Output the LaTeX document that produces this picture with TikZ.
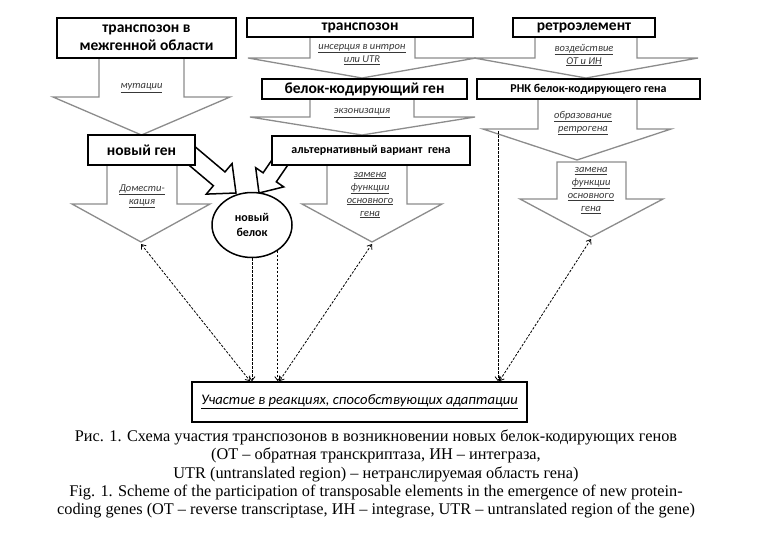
\documentclass[tikz,border=0pt]{standalone}
\usepackage{fontspec}
\setmainfont{Liberation Serif}
\newfontfamily\cfont{Carlito}
\usetikzlibrary{arrows.meta,shapes.geometric,calc}

\tikzset{
  box/.style={draw, line width=1.5pt, fill=white, inner sep=0pt, align=center,
    font=\cfont\bfseries\fontsize{15.5}{18}\selectfont},
  smallbox/.style={box, font=\cfont\bfseries\fontsize{12}{15}\selectfont},
  grayarr/.style={draw=black!45, line width=1.3pt, fill=white, line join=miter},
  blk/.style={draw, line width=1.5pt, fill=white, line join=miter},
  lbl/.style={font=\cfont\itshape\fontsize{10.5}{13}\selectfont, align=center, inner sep=0pt, text=black!78},
  dasharr/.style={dash pattern=on 2.5pt off 1.5pt, line width=0.8pt},
  barb/.tip={Straight Barb[length=4pt,width=6pt]}
}

\newcommand\blkarrow[5]{%
  \coordinate (bA) at #1; \coordinate (bT) at #2;
  \coordinate (bB) at ($(bT)!#5!(bA)$);
  \draw[blk] ($(bA)!#3!90:(bT)$) -- ($(bB)!#3!90:(bT)$) -- ($(bB)!#4!90:(bT)$) -- (bT)
    -- ($(bB)!#4!-90:(bT)$) -- ($(bB)!#3!-90:(bT)$) -- ($(bA)!#3!-90:(bT)$) -- cycle;
}

\begin{document}
\begin{tikzpicture}[x=1pt,y=-1pt]
\useasboundingbox[fill=white] (0,0) rectangle (760,533);

% gray block arrows
\draw[grayarr] (99,58) -- (99,97) -- (53,97) -- (141.5,135) -- (230,97) -- (184,97) -- (184,58);
\draw[grayarr] (310,37) -- (310,58) -- (248,58) -- (362,78) -- (476,58) -- (415,58) -- (415,37);
\draw[grayarr] (310,99) -- (310,117) -- (250,117) -- (362,135) -- (475,117) -- (414,117) -- (414,99);
\draw[grayarr] (535,37) -- (535,58) -- (474,58) -- (586,78) -- (698,58) -- (637,58) -- (637,37);
\draw[grayarr] (538,99) -- (538,129) -- (483,129) -- (577,160) -- (671,129) -- (637,129) -- (637,99);
\draw[grayarr] (557,162) -- (557,199) -- (520,199) -- (591,237) -- (663,199) -- (626,199) -- (626,162) -- cycle;
\draw[grayarr] (107,165) -- (107,204) -- (72,204) -- (141,242) -- (210,204) -- (177,204) -- (177,165);
\draw[grayarr] (327,165) -- (327,204) -- (302,204) -- (372,242) -- (442,204) -- (407,204) -- (407,165);

% black block arrows to the new protein
\blkarrow{(185,150)}{(236,193)}{9pt}{20pt}{22pt}
\blkarrow{(287,152)}{(259,193)}{8pt}{17pt}{19pt}

% boxes
\node[box, minimum width=179pt, minimum height=40pt] (b1) at (146.5,38) {транспозон в\\межгенной области};
\node[box, minimum width=226pt, minimum height=19pt] (b2) at (360,27.5) {транспозон};
\node[box, minimum width=142pt, minimum height=19pt] (b3) at (584,27.5) {ретроэлемент};
\node[box, minimum width=205pt, minimum height=20pt] (b4) at (364.5,89) {белок-кодирующий ген};
\node[smallbox, minimum width=223pt, minimum height=20pt] (b5) at (588.5,89) {РНК белок-кодирующего гена};
\node[box, minimum width=107pt, minimum height=30pt] (b6) at (141.5,150) {новый ген};
\node[smallbox, minimum width=198pt, minimum height=29pt] (b7) at (371,150.5) {альтернативный вариант~ гена};
\node[draw, ellipse, line width=1.5pt, fill=white, minimum width=80pt, minimum height=65pt, inner sep=0pt,
  align=center, font=\cfont\bfseries\fontsize{12}{15}\selectfont] (bel) at (252,225) {новый\\белок};
\node[draw, line width=1.5pt, minimum width=335pt, minimum height=40pt, inner sep=0pt,
  font=\cfont\itshape\fontsize{14.6}{17}\selectfont] (b8) at (359.5,402)
  {\underline{Участие в реакциях, способствующих адаптации}};

% labels
\node[lbl] (l1) at (141.5,88) {\underline{мутации}};
\node[lbl] (l2) at (362,54.5) {\underline{инсерция в интрон}\\\underline{или UTR}};
\node[lbl] (l3) at (362,113) {\underline{экзонизация}};
\node[lbl] (l4) at (584,55) {\underline{воздействие}\\\underline{ОТ и ИН}};
\node[lbl] (l5) at (583,123) {\underline{образование}\\\underline{ретрогена}};
\node[lbl] (l6) at (142,196) {\underline{Домести-}\\\underline{кация}};
\node[lbl] (l7) at (370,195) {\underline{замена}\\\underline{функции}\\\underline{основного}\\\underline{гена}};
\node[lbl] (l8) at (591,190.5) {\underline{замена}\\\underline{функции}\\\underline{основного}\\\underline{гена}};

% arrow tips of gray arrows as named coordinates
\coordinate (t7) at (141,244);
\coordinate (t8) at (372,244);
\coordinate (t6) at (591,239);
\coordinate (t5) at (498,131);

% dashed connectors
\draw[dasharr, barb-barb] (t7) -- ($(b8.north west)+(59,0)$);
\draw[dasharr, -barb] (bel.south) -- (bel.south |- b8.north);
\draw[dasharr, -barb] (bel.-45) -- (bel.-45 |- b8.north);
\draw[dasharr, barb-barb] (t8) -- ($(b8.north west)+(88,0)$);
\draw[dasharr, -barb] (t5) -- (t5 |- b8.north);
\draw[dasharr, barb-barb] (t6) -- ($(b8.north west)+(308,0)$);

% caption
\node[align=center, inner sep=0pt, font=\fontsize{16.3}{18.3}\selectfont] (cap) at (376,474)
  {Рис. 1. Схема участия транспозонов в возникновении новых белок-кодирующих генов\\
   (ОТ – обратная транскриптаза, ИН – интеграза,\\
   UTR (untranslated region) – нетранслируемая область гена)\\
   Fig. 1. Scheme of the participation of transposable elements in the emergence of new protein-\\
   coding genes (OT – reverse transcriptase, ИН – integrase, UTR – untranslated region of the gene)};
\end{tikzpicture}
\end{document}
